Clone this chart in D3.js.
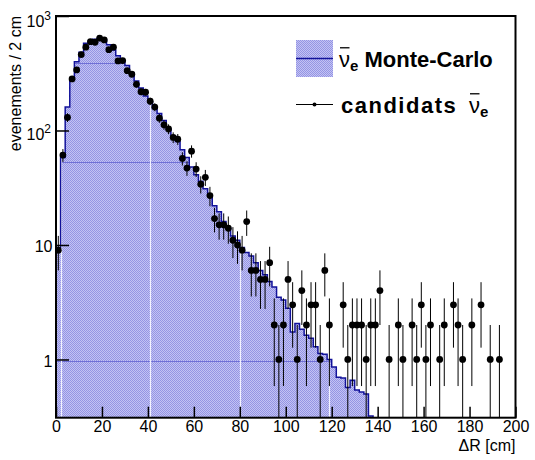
<!DOCTYPE html>
<html>
<head>
<meta charset="utf-8">
<script src="https://cdn.jsdelivr.net/npm/d3@7"></script>
<style>
  body { margin: 0; background: #fff; }
  svg { display: block; font-family: "Liberation Sans", Arial, Helvetica, sans-serif; }
</style>
</head>
<body>
<div id="plot"></div>
<script>
// 100 bins of 2 cm, from 0 to 200 cm
const binWidth = 2;

// Monte-Carlo expectation per bin (0 = empty bin)
const mcCounts = [
  9.5, 58, 160, 280, 399, 483, 578, 605, 625, 640,
  620, 560, 505, 450, 410, 370, 320, 270, 235, 200,
  178, 158, 141, 122, 103, 90, 80, 68, 58, 48,
  41, 36, 31, 27.5, 22, 19.5, 16, 14, 12, 11,
  9.5, 8.6, 8.0, 7.0, 6.0, 5.5, 4.8, 4.3, 3.5, 3.3,
  2.8, 1.74, 2.06, 1.84, 1.63, 1.53, 1.29, 1.13, 1.11, 1.0,
  0.86, 0.70, 0.69, 0.57, 0.66, 0.54, 0.52, 0.50, 0.32, 0,
  0, 0, 0, 0, 0, 0, 0, 0, 0, 0,
  0, 0, 0, 0, 0, 0, 0, 0, 0, 0,
  0, 0, 0, 0, 0, 0, 0, 0, 0, 0
];

// candidates per bin
const dataCounts = [
  9, 61, 130, 282, 338, 460, 534, 597, 590, 640,
  618, 508, 534, 405, 408, 333, 310, 253, 218, 216,
  180, 160, 128, 112, 103, 87, 84, 57, 47, 66,
  46, 34, 39, 27, 17, 15, 15, 14, 11, 10,
  9, 16, 6, 6, 5, 5, 7, 2, 1, 2,
  5, 3, 1, 4, 2, 3, 3, 1, 6, 2,
  0, 0, 3, 1, 2, 2, 2, 1, 2, 2,
  4, 0, 1, 0, 2, 1, 0, 2, 1, 3,
  1, 2, 0, 1, 2, 0, 3, 2, 1, 0,
  2, 0, 3, 0, 1, 0, 1, 0, 0, 0
];

const xTickLabels = [0, 20, 40, 60, 80, 100, 120, 140, 160, 180, 200];
const yDecades = [1, 10, 100, 1000];
const yDecadeExp = ["", "", "2", "3"];

// seams of the hatch pattern tiling, visible inside the fill
const seamValues = [389, 53, 0.97];
const seamPositions = [2.2, 40.9, 80, 118.8];

const width = 535, height = 460;
const margin = {top: 16, right: 19.5, bottom: 42.3, left: 56};
const yMin = 0.31, yMax = 1000;

const x = d3.scaleLinear()
    .domain([0, 200])
    .range([margin.left, width - margin.right]);

const y = d3.scaleLog()
    .domain([yMin, yMax])
    .range([height - margin.bottom, margin.top]);

const svg = d3.select("#plot")
    .append("svg")
    .attr("width", width)
    .attr("height", height);

const defs = svg.append("defs");

// checker hatch like the ROOT fill style
const pat = defs.append("pattern")
    .attr("id", "hatch")
    .attr("width", 2)
    .attr("height", 2)
    .attr("patternUnits", "userSpaceOnUse");
pat.append("rect").attr("width", 2).attr("height", 2).attr("fill", "#c3c3f3");
pat.append("rect").attr("width", 1).attr("height", 1).attr("fill", "#9494e4");
pat.append("rect").attr("x", 1).attr("y", 1).attr("width", 1).attr("height", 1).attr("fill", "#9494e4");

defs.append("clipPath").attr("id", "plotClip")
    .append("rect")
    .attr("x", margin.left)
    .attr("y", margin.top)
    .attr("width", width - margin.left - margin.right)
    .attr("height", height - margin.top - margin.bottom);

// histogram steps (last edge repeats the last bin)
const mcSteps = mcCounts.map((v, i) => ({edge: i * binWidth, v: v}));
mcSteps.push({edge: 200, v: mcCounts[mcCounts.length - 1]});

const yc = v => y(Math.max(v, yMin));

const area = d3.area()
    .curve(d3.curveStepAfter)
    .x(d => x(d.edge))
    .y0(y(yMin))
    .y1(d => yc(d.v));

const line = d3.line()
    .curve(d3.curveStepAfter)
    .x(d => x(d.edge))
    .y(d => yc(d.v));

defs.append("clipPath").attr("id", "fillClip")
    .append("path")
    .attr("d", area(mcSteps));

const plot = svg.append("g").attr("clip-path", "url(#plotClip)");

plot.append("path")
    .attr("d", area(mcSteps))
    .attr("fill", "url(#hatch)");

// tiling seams
const seams = plot.append("g").attr("clip-path", "url(#fillClip)");
seams.selectAll("line.h")
    .data(seamValues)
    .enter()
    .append("line")
    .attr("x1", margin.left)
    .attr("x2", width - margin.right)
    .attr("y1", d => Math.round(y(d)) + 0.5)
    .attr("y2", d => Math.round(y(d)) + 0.5)
    .attr("stroke", "#7070d6")
    .attr("stroke-width", 1);
seams.selectAll("line.v")
    .data(seamPositions)
    .enter()
    .append("line")
    .attr("x1", d => Math.round(x(d)) + 0.5)
    .attr("x2", d => Math.round(x(d)) + 0.5)
    .attr("y1", margin.top)
    .attr("y2", height - margin.bottom)
    .attr("stroke", "#f2f2ff")
    .attr("stroke-width", 1.2);

plot.append("path")
    .attr("d", line(mcSteps))
    .attr("fill", "none")
    .attr("stroke", "#12129a")
    .attr("stroke-width", 1.5);

// candidates with sqrt(N) errors
const points = dataCounts
    .map((n, i) => ({c: i * binWidth + binWidth / 2, n: n}))
    .filter(d => d.n > 0);

plot.selectAll("line.err")
    .data(points)
    .enter()
    .append("line")
    .attr("x1", d => x(d.c))
    .attr("x2", d => x(d.c))
    .attr("y1", d => y(Math.max(d.n - Math.sqrt(d.n), yMin / 10)))
    .attr("y2", d => y(d.n + Math.sqrt(d.n)))
    .attr("stroke", "#000")
    .attr("stroke-width", 1);

plot.selectAll("circle")
    .data(points)
    .enter()
    .append("circle")
    .attr("cx", d => x(d.c))
    .attr("cy", d => y(d.n))
    .attr("r", 3.4)
    .attr("fill", "#000");

// x axis ticks (inside, pointing up)
const xAxisG = svg.append("g").attr("transform", `translate(0,${height - margin.bottom})`);
xAxisG.call(d3.axisBottom(x).tickValues(d3.range(0, 201, 5)).tickSize(-5.5).tickFormat(""));
xAxisG.call(d3.axisBottom(x).tickValues(xTickLabels).tickSize(-11).tickPadding(3).tickFormat(d3.format("d")));
xAxisG.selectAll(".domain").remove();
xAxisG.selectAll("line").attr("stroke", "#000").attr("stroke-width", 1.5);
xAxisG.selectAll("text")
    .attr("fill", "#000")
    .style("font-size", "16px")
    .style("font-family", "Liberation Sans, Arial, sans-serif");

// y axis ticks
const yMinor = [];
[0.1, 1, 10, 100].forEach(dec => {
  for (let k = 2; k <= 9; k++) {
    const v = dec * k;
    if (v >= yMin && v <= yMax) yMinor.push(v);
  }
});
const yAxisG = svg.append("g").attr("transform", `translate(${margin.left},0)`);
yAxisG.call(d3.axisLeft(y).tickValues(yMinor).tickSize(-6.5).tickFormat(""));
yAxisG.call(d3.axisLeft(y).tickValues(yDecades).tickSize(-13).tickFormat(""));
yAxisG.selectAll(".domain").remove();
yAxisG.selectAll("line").attr("stroke", "#000").attr("stroke-width", 1.5);

// y tick labels with superscripts
yDecades.forEach((v, i) => {
  const exp = yDecadeExp[i];
  const t = svg.append("text")
      .attr("x", exp ? 51 : 52.5)
      .attr("y", y(v) + (exp ? (v === yMax ? 10.5 : 9.5) : 7.5))
      .attr("text-anchor", "end")
      .style("font-size", "16px");
  if (exp) {
    t.append("tspan").text("10");
    t.append("tspan").attr("dy", -7).style("font-size", "12px").text(exp);
  } else {
    t.text(v);
  }
});

// frame
svg.append("rect")
    .attr("x", margin.left)
    .attr("y", margin.top)
    .attr("width", width - margin.left - margin.right)
    .attr("height", height - margin.top - margin.bottom)
    .attr("fill", "none")
    .attr("stroke", "#000")
    .attr("stroke-width", 2);

// axis titles
svg.append("text")
    .attr("x", width - margin.right)
    .attr("y", 451)
    .attr("text-anchor", "end")
    .style("font-size", "16px")
    .text("\u0394R [cm]");

svg.append("text")
    .attr("transform", `translate(21,${margin.top}) rotate(-90)`)
    .attr("text-anchor", "end")
    .style("font-size", "16px")
    .text("evenements / 2 cm");

// legend
const legend = svg.append("g");
legend.append("rect")
    .attr("x", 296).attr("y", 40)
    .attr("width", 37).attr("height", 37)
    .attr("fill", "url(#hatch)");
legend.append("line")
    .attr("x1", 296).attr("x2", 333)
    .attr("y1", 58.5).attr("y2", 58.5)
    .attr("stroke", "#12129a")
    .attr("stroke-width", 1.5);

legend.append("line")
    .attr("x1", 296).attr("x2", 333)
    .attr("y1", 104.5).attr("y2", 104.5)
    .attr("stroke", "#000")
    .attr("stroke-width", 1);
legend.append("circle")
    .attr("cx", 314.5).attr("cy", 104.5)
    .attr("r", 2)
    .attr("fill", "#000");

function nuBar(textSel, charIndex, baseline, size) {
  const ext = textSel.node().getExtentOfChar(charIndex);
  legend.append("line")
      .attr("x1", ext.x + 1)
      .attr("x2", ext.x + ext.width - 0.5)
      .attr("y1", baseline - 0.86 * size)
      .attr("y2", baseline - 0.86 * size)
      .attr("stroke", "#000")
      .attr("stroke-width", 1.3);
}

const mcLabel = legend.append("text")
    .attr("x", 339).attr("y", 66.7)
    .style("font-size", "22px")
    .style("font-weight", "bold");
mcLabel.append("tspan").style("font-weight", "normal").text("\u03bd");
mcLabel.append("tspan").attr("dy", 4).style("font-size", "15px").text("e");
mcLabel.append("tspan").attr("dy", -4).text(" Monte-Carlo");
nuBar(mcLabel, 0, 66.7, 22);

const dataLabel = legend.append("text")
    .attr("x", 341).attr("y", 112.7)
    .style("font-size", "22px")
    .style("font-weight", "bold");
dataLabel.append("tspan").style("letter-spacing", "1.5px").text("candidats");
dataLabel.append("tspan").attr("x", 469).style("font-weight", "normal").text("\u03bd");
dataLabel.append("tspan").attr("dy", 4).style("font-size", "15px").text("e");
nuBar(dataLabel, 9, 112.7, 22);
</script>
</body>
</html>
